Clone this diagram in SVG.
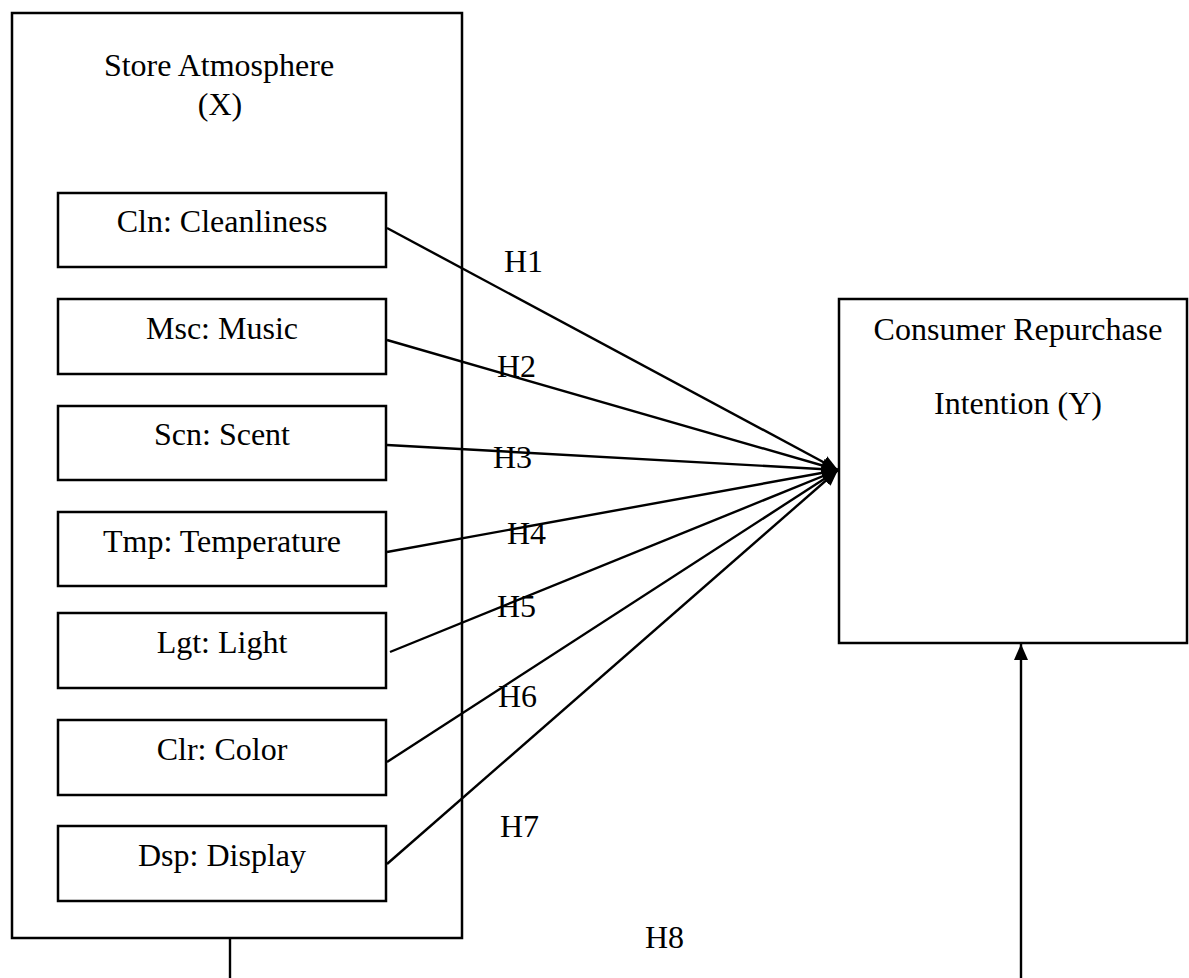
<svg xmlns="http://www.w3.org/2000/svg" width="1189" height="978" viewBox="0 0 1189 978">
  <style>
    .box { fill: #ffffff; stroke: #000000; stroke-width: 2.5; }
    .lbl { font-family: "Liberation Serif", "Times New Roman", serif; font-size: 32px; fill: #000000; text-anchor: middle; }
    .hl { font-family: "Liberation Serif", "Times New Roman", serif; font-size: 32px; fill: #000000; }
    .conn { stroke: #000000; stroke-width: 2.4; fill: none; }
  </style>
  <defs>
    <marker id="arr" viewBox="0 0 16 14" refX="16" refY="7" markerWidth="16" markerHeight="14" markerUnits="userSpaceOnUse" orient="auto">
      <path d="M0,0 L16,7 L0,14 Z" fill="#000000"/>
    </marker>
  </defs>
  <rect width="1189" height="978" fill="#ffffff"/>

  <g id="store-atmosphere">
    <rect class="box" x="12" y="13" width="450" height="925"/>
    <text class="lbl" x="219" y="76">Store Atmosphere</text>
    <text class="lbl" x="220" y="115">(X)</text>
  </g>

  <g id="node-cln">
    <rect class="box" x="58" y="193" width="328" height="74"/>
    <text class="lbl" x="222" y="232">Cln: Cleanliness</text>
  </g>
  <g id="node-msc">
    <rect class="box" x="58" y="299" width="328" height="75"/>
    <text class="lbl" x="222" y="339">Msc: Music</text>
  </g>
  <g id="node-scn">
    <rect class="box" x="58" y="406" width="328" height="74"/>
    <text class="lbl" x="222" y="445">Scn: Scent</text>
  </g>
  <g id="node-tmp">
    <rect class="box" x="58" y="512" width="328" height="74"/>
    <text class="lbl" x="222" y="552">Tmp: Temperature</text>
  </g>
  <g id="node-lgt">
    <rect class="box" x="58" y="613" width="328" height="75"/>
    <text class="lbl" x="222" y="653">Lgt: Light</text>
  </g>
  <g id="node-clr">
    <rect class="box" x="58" y="720" width="328" height="75"/>
    <text class="lbl" x="222" y="760">Clr: Color</text>
  </g>
  <g id="node-dsp">
    <rect class="box" x="58" y="826" width="328" height="75"/>
    <text class="lbl" x="222" y="866">Dsp: Display</text>
  </g>

  <g id="node-repurchase">
    <rect class="box" x="839" y="299" width="348" height="344"/>
    <text class="lbl" x="1018" y="340">Consumer Repurchase</text>
    <text class="lbl" x="1018" y="414">Intention (Y)</text>
  </g>

  <g id="connectors">
    <line class="conn" x1="387" y1="228" x2="838" y2="470" marker-end="url(#arr)"/>
    <line class="conn" x1="387" y1="340" x2="838" y2="470" marker-end="url(#arr)"/>
    <line class="conn" x1="387" y1="445" x2="838" y2="470" marker-end="url(#arr)"/>
    <line class="conn" x1="387" y1="552" x2="838" y2="470" marker-end="url(#arr)"/>
    <line class="conn" x1="390" y1="652" x2="838" y2="470" marker-end="url(#arr)"/>
    <line class="conn" x1="387" y1="762" x2="838" y2="470" marker-end="url(#arr)"/>
    <line class="conn" x1="387" y1="864" x2="838" y2="470" marker-end="url(#arr)"/>
    <line class="conn" x1="230" y1="938" x2="230" y2="978"/>
    <line class="conn" x1="1021" y1="978" x2="1021" y2="644" marker-end="url(#arr)"/>
  </g>

  <g id="labels">
    <text class="hl" x="504" y="272">H1</text>
    <text class="hl" x="497" y="377">H2</text>
    <text class="hl" x="493" y="468">H3</text>
    <text class="hl" x="507" y="544">H4</text>
    <text class="hl" x="497" y="617">H5</text>
    <text class="hl" x="498" y="707">H6</text>
    <text class="hl" x="500" y="837">H7</text>
    <text class="hl" x="645" y="948">H8</text>
  </g>
</svg>
